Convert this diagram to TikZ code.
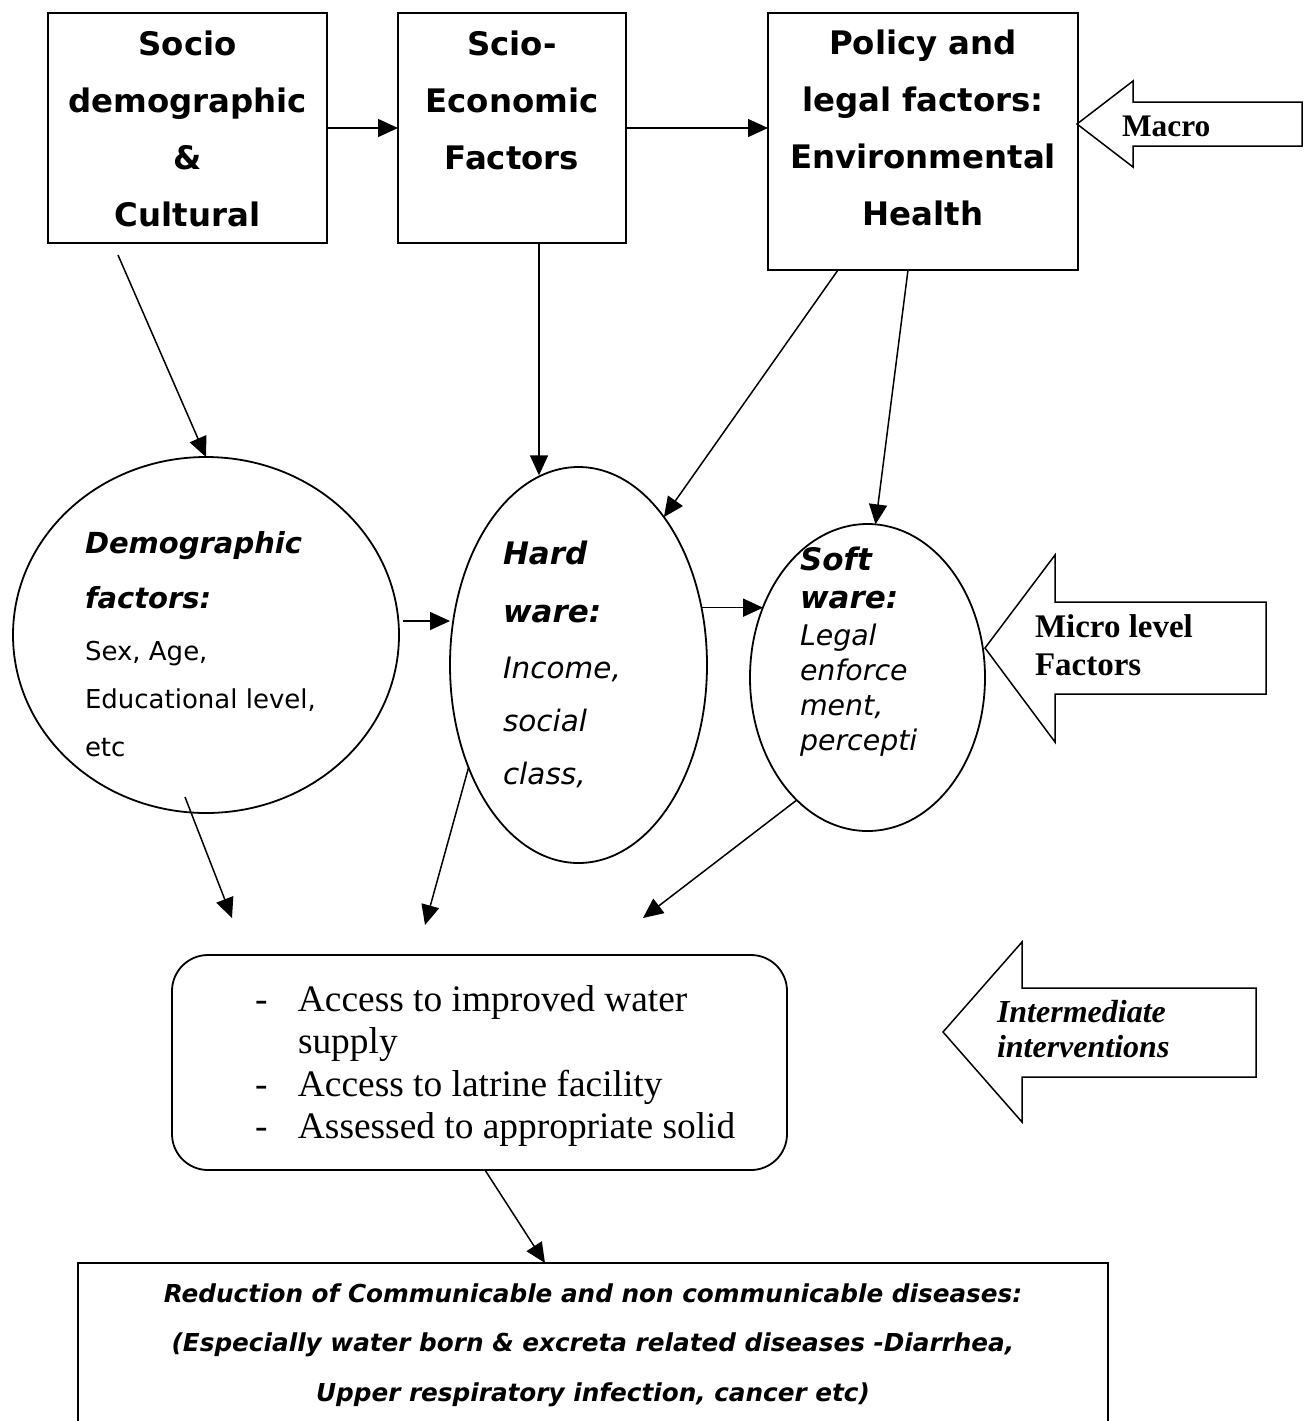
\documentclass[tikz,border=0pt]{standalone}
\usepackage{fontspec}
\setmainfont{Liberation Serif}
\setsansfont{DejaVu Sans}
\usetikzlibrary{arrows.meta,shapes.geometric}
\tikzset{
  topbox/.style={draw, line width=0.9pt, inner sep=0pt, outer sep=0pt, anchor=north west,
    font=\sffamily\bfseries\fontsize{16.2pt}{28.65pt}\selectfont},
  oval/.style={draw, ellipse, line width=0.9pt, inner sep=0pt, outer sep=0pt, text height=0pt},
  arr/.style={line width=0.75pt, -{Triangle[length=10pt,width=9pt]}},
  blockarrow/.style={draw, line width=0.75pt, line join=miter},
  arrowtext/.style={anchor=base west, inner sep=0pt, outer sep=0pt},
}
\begin{document}
\begin{tikzpicture}[x=0.5pt,y=-0.5pt]
\useasboundingbox (0,0) rectangle (1311,1421);
\clip (0,0) rectangle (1311,1421);

% top boxes
\node[topbox, text height=21pt, text depth=94pt] (box1) at (48,13)
  {\begin{minipage}[t]{139.5pt}\centering Socio\\ demographic\\ \&\\ Cultural\end{minipage}};
\node[topbox, text height=21pt, text depth=94pt] (box2) at (398,13)
  {\begin{minipage}[t]{114pt}\centering Scio-\\ Economic\\ Factors\end{minipage}};
\node[topbox, text height=20.5pt, text depth=108pt] (box3) at (768,13)
  {\begin{minipage}[t]{155pt}\centering Policy and\\ legal factors:\\ Environmental\\ Health\end{minipage}};

% ellipses
\node[oval, minimum width=193pt, minimum height=178pt, text depth=82pt,
  font=\sffamily\fontsize{13pt}{24pt}\selectfont] (demo) at (206,635)
  {\begin{minipage}[t]{121pt}\raggedright
  {\bfseries\itshape\fontsize{14.5pt}{24pt}\selectfont Demographic}\\[3.5pt]
  {\bfseries\itshape\fontsize{14.5pt}{24pt}\selectfont factors:}\\[2pt]
  Sex, Age,\\ \mbox{Educational level,}\\ etc\end{minipage}};

\node[oval, minimum width=128.5pt, minimum height=198pt, text depth=101pt,
  font=\sffamily\itshape\fontsize{14.75pt}{26.5pt}\selectfont] (hard) at (578.5,665)
  {\begin{minipage}[t]{75.5pt}\raggedright
  {\bfseries\fontsize{15.5pt}{26.5pt}\selectfont Hard}\\[2.5pt]
  {\bfseries\fontsize{15.5pt}{26.5pt}\selectfont ware:}\\[1.5pt]
  Income,\\ social\\ class,\end{minipage}};

\node[oval, minimum width=117.5pt, minimum height=153.5pt, text depth=107.5pt,
  font=\sffamily\itshape\fontsize{14.2pt}{17.5pt}\selectfont] (soft) at (867.5,677.5)
  {\begin{minipage}[t]{67.5pt}\raggedright
  {\bfseries\fontsize{15.5pt}{17.5pt}\selectfont Soft}\\[1.5pt]
  {\bfseries\fontsize{15.5pt}{17.5pt}\selectfont ware:}\\[1pt]
  Legal\\ enforce\\ ment,\\ percepti\end{minipage}};

% intermediate rounded box
\node[draw, rounded corners=18pt, line width=0.9pt, inner sep=0pt, outer sep=0pt,
  anchor=north west, text height=28pt, text depth=79.5pt,
  font=\rmfamily\fontsize{18.7pt}{21.25pt}\selectfont] (rbox) at (172,955)
  {\begin{minipage}[t]{307.5pt}\raggedright\leftskip=41.5pt
  \makebox[21.5pt][l]{-}Access to improved water\\
  \hspace*{21.5pt}supply\\
  \makebox[21.5pt][l]{-}Access to latrine facility\\
  \makebox[21.5pt][l]{-}Assessed to appropriate solid\end{minipage}};

% bottom box (runs off the page)
\node[draw, line width=0.9pt, inner sep=0pt, outer sep=0pt, anchor=north west,
  text height=19.5pt, text depth=74pt,
  font=\sffamily\bfseries\itshape\fontsize{12.35pt}{24.75pt}\selectfont] (bot) at (78,1263)
  {\begin{minipage}[t]{515pt}\centering
  Reduction of Communicable and non communicable diseases:\\
  (Especially water born \& excreta related diseases -Diarrhea,\\
  Upper respiratory infection, cancer etc)\end{minipage}};

% block arrows
\draw[blockarrow] (1077,124) -- (1133,81) -- (1133,102) -- (1302,102) -- (1302,146)
  -- (1133,146) -- (1133,167) -- cycle;
\node[arrowtext, font=\rmfamily\bfseries\fontsize{15.7pt}{19pt}\selectfont] (macro) at (1122,136)
  {\begin{minipage}[t]{100pt}Macro\end{minipage}};

\draw[blockarrow] (985,648) -- (1055,555) -- (1055,602) -- (1266,602) -- (1266,694)
  -- (1055,694) -- (1055,742) -- cycle;
\node[arrowtext, font=\rmfamily\bfseries\fontsize{16.5pt}{19pt}\selectfont] (micro) at (1035,637)
  {\begin{minipage}[t]{120pt}\raggedright Micro level\\ Factors\end{minipage}};

\draw[blockarrow] (943,1032) -- (1022,942) -- (1022,988) -- (1256,988) -- (1256,1077)
  -- (1022,1077) -- (1022,1122) -- cycle;
\node[arrowtext, font=\rmfamily\bfseries\itshape\fontsize{16pt}{17.5pt}\selectfont] (inter) at (997,1022)
  {\begin{minipage}[t]{110pt}\raggedright Intermediate\\ interventions\end{minipage}};

% free end points
\coordinate (s1) at ([xshift=-34.75pt,yshift=-6pt]box1.south);
\coordinate (s2) at ([xshift=13.5pt]box2.south);
\coordinate (s3) at ([xshift=-42.5pt]box3.south);
\coordinate (s4) at ([xshift=-7.5pt]box3.south);
\coordinate (d1) at ([xshift=2pt,yshift=7pt]demo.east);
\coordinate (d2) at ([xshift=-10.5pt,yshift=8pt]demo.south);
\coordinate (t1) at (232,918);
\coordinate (t2) at (425,925);
\coordinate (t3) at (643,918);
\coordinate (r1) at ([xshift=2.75pt]rbox.south);
\coordinate (b1) at ([xshift=-24pt]bot.north);

% connectors
\draw[arr] (box1.east) -- (box2.west);
\draw[arr] (box2.east) -- (box2.east -| box3.west);
\draw[arr] (s1) -- (demo.north);
\draw[arr] (s2) -- (s2 |- hard.101.84);
\draw[arr] (s3) -- (hard.60);
\draw[arr] (s4) -- (soft.87);
\draw[arr] (d1) -- (d1 -| hard.west);
\draw[arr] (hard.25) -- (hard.25 -| soft.146);
\draw[arr] (d2) -- (t1);
\draw[arr] (hard.223) -- (t2);
\draw[arr] (soft.240) -- (t3);
\draw[arr] (r1) -- (b1);
\end{tikzpicture}
\end{document}
